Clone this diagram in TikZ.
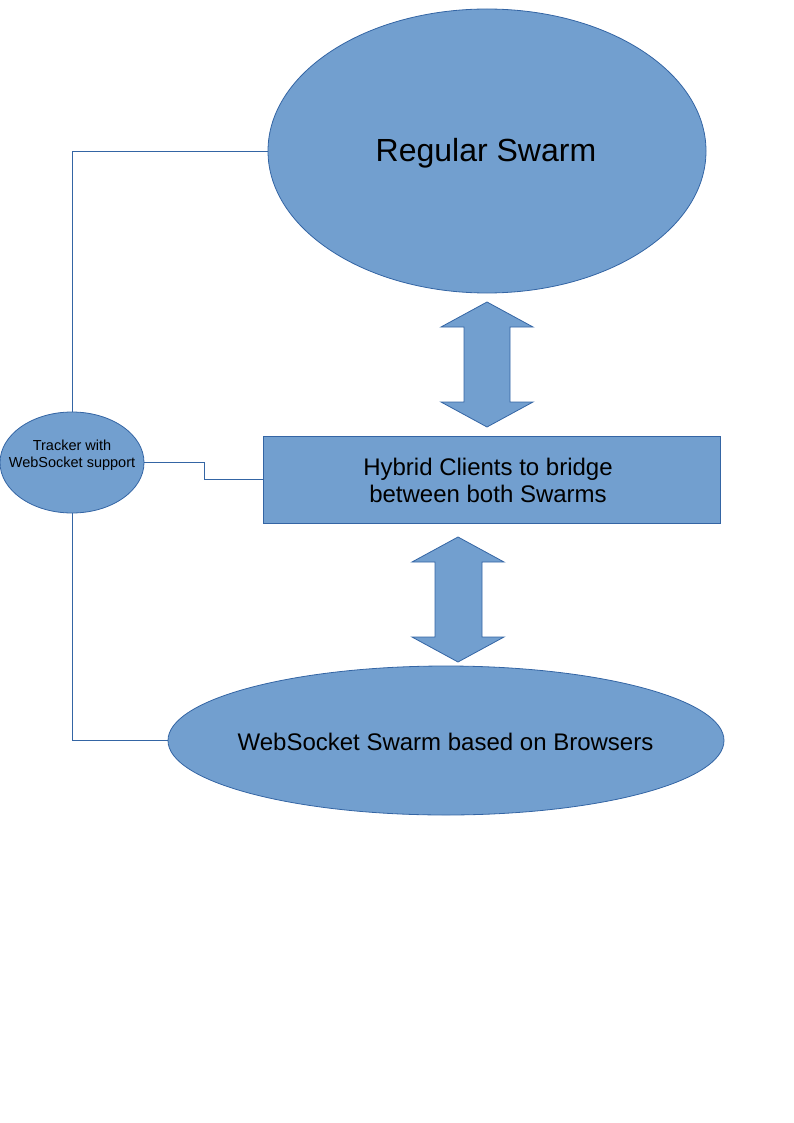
\documentclass[tikz,border=0pt]{standalone}
\usepackage{fontspec}
\setmainfont{Liberation Sans}
\usetikzlibrary{shapes.geometric}
\definecolor{shapefill}{HTML}{729FCF}
\definecolor{shapeline}{HTML}{3465A4}
\tikzset{
  blob/.style={ellipse, draw=shapeline, fill=shapefill, line width=0.8pt, inner sep=0pt},
  boxshape/.style={rectangle, draw=shapeline, fill=shapefill, line width=0.8pt, inner sep=0pt},
  conn/.style={draw=shapeline, line width=0.9pt},
  bigarrow/.style={draw=shapeline, fill=shapefill, line width=0.8pt, line join=miter},
  plain/.style={inner sep=0pt, align=center, text=black}
}
\begin{document}
\begin{tikzpicture}[x=1pt, y=-1pt]
\useasboundingbox (0,0) rectangle (794,1123);
\node[blob, minimum width=438pt, minimum height=284pt] (regular) at (487,151) {};
\node[plain, font=\fontsize{32}{38}\selectfont] (regulartext) at (486,153) {Regular Swarm};
\node[boxshape, minimum width=457pt, minimum height=87pt] (hybrid) at (491.5,479.5) {};
\node[plain, font=\fontsize{24}{27}\selectfont] (hybridtext) at (488,480) {Hybrid Clients to bridge\\ between both Swarms};
\node[blob, minimum width=556pt, minimum height=149pt] (websocket) at (446,740.5) {};
\node[plain, font=\fontsize{24}{28}\selectfont] (websockettext) at (445.5,742) {WebSocket Swarm based on Browsers};
\node[blob, minimum width=144pt, minimum height=101pt] (tracker) at (72,462.5) {};
\node[plain, font=\fontsize{14.5}{17}\selectfont] (trackertext) at (72,455) {Tracker with\\WebSocket support};
\draw[bigarrow] (487,302) -- (533,327) -- (510,327) -- (510,402) -- (533,402) -- (487,427) -- (441,402) -- (464,402) -- (464,327) -- (441,327) -- cycle;
\draw[bigarrow] (458,537) -- (504,562) -- (482,562) -- (482,637) -- (504,637) -- (458,662) -- (412,637) -- (435,637) -- (435,562) -- (412,562) -- cycle;
\draw[conn] (tracker.north) |- (regular.west);
\draw[conn] (tracker.south) |- (websocket.west);
\draw[conn] (tracker.east) -- ++(60,0) |- (hybrid.west);
\end{tikzpicture}
\end{document}
